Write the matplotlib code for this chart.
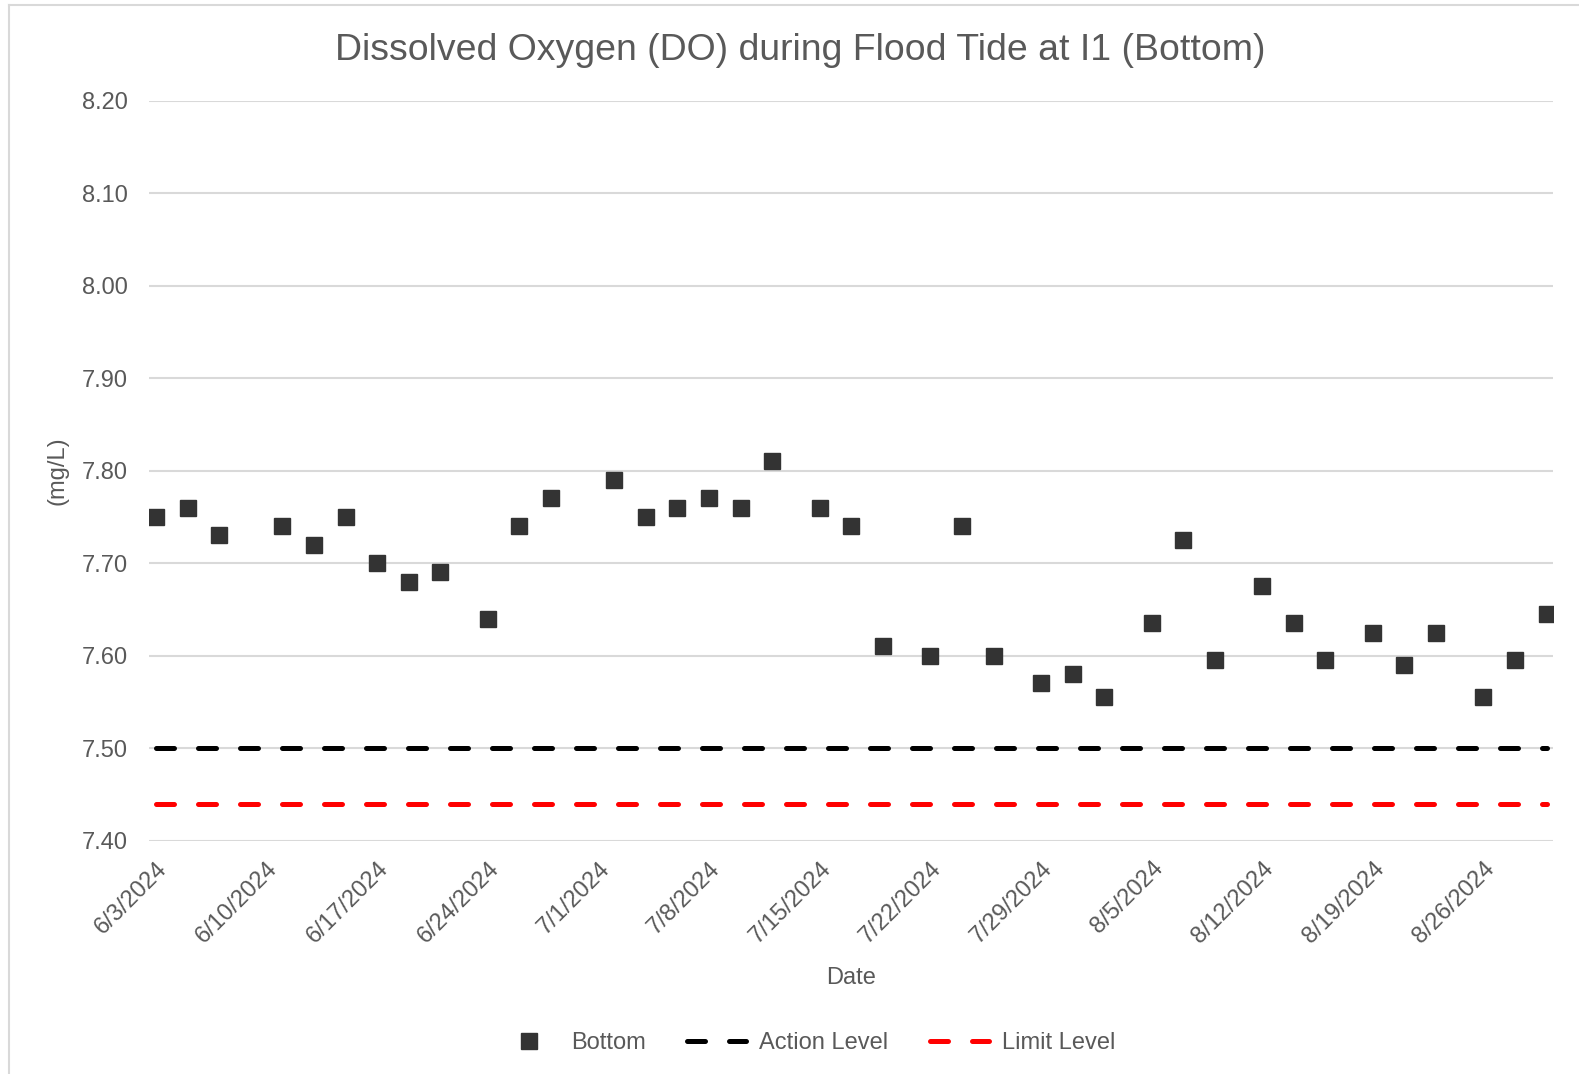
import matplotlib.pyplot as plt
import matplotlib.transforms as mtransforms
import numpy as np
import pandas as pd

plt.rcParams['font.family'] = ['Liberation Sans', 'DejaVu Sans']

# data
dates = pd.to_datetime([
    "2024-06-03", "2024-06-05", "2024-06-07", "2024-06-11", "2024-06-13",
    "2024-06-15", "2024-06-17", "2024-06-19", "2024-06-21", "2024-06-24",
    "2024-06-26", "2024-06-28", "2024-07-02", "2024-07-04", "2024-07-06",
    "2024-07-08", "2024-07-10", "2024-07-12", "2024-07-15", "2024-07-17",
    "2024-07-19", "2024-07-22", "2024-07-24", "2024-07-26", "2024-07-29",
    "2024-07-31", "2024-08-02", "2024-08-05", "2024-08-07", "2024-08-09",
    "2024-08-12", "2024-08-14", "2024-08-16", "2024-08-19", "2024-08-21",
    "2024-08-23", "2024-08-26", "2024-08-28", "2024-08-30"])
bottom = [7.75, 7.76, 7.73, 7.74, 7.72, 7.75, 7.70, 7.68, 7.69, 7.64,
          7.74, 7.77, 7.79, 7.75, 7.76, 7.77, 7.76, 7.81, 7.76, 7.74,
          7.61, 7.60, 7.74, 7.60, 7.57, 7.58, 7.555, 7.635, 7.725, 7.595,
          7.675, 7.635, 7.595, 7.625, 7.59, 7.625, 7.555, 7.595, 7.645]
action_level = 7.50
limit_level = 7.44
tick_dates = pd.date_range("2024-06-03", "2024-08-26", freq="7D")
y_ticks = [7.40, 7.50, 7.60, 7.70, 7.80, 7.90, 8.00, 8.10, 8.20]

txt = "#595959"
W, H = 1579, 1074

fig = plt.figure(figsize=(15.79, 10.74), dpi=100)
ax = fig.add_axes([149/W, 1 - 840.7/H, (1553-149)/W, (840.7-100.7)/H])

# light frame like the excel chart area
fig.add_artist(plt.Line2D([9/W, 9/W], [0, 1 - 5/H], color="#d9d9d9", lw=1.5))
fig.add_artist(plt.Line2D([9/W, 1], [1 - 5/H, 1 - 5/H], color="#d9d9d9", lw=1.5))

ax.plot(dates, bottom, linestyle="none", marker="s", markersize=11.5,
        color="#333333", label="Bottom", zorder=3)

line_x = [dates[0], dates[-1]]
l1, = ax.plot(line_x, [action_level]*2, color="black", lw=3.6,
              label="Action Level", dash_capstyle="round", zorder=2)
l2, = ax.plot(line_x, [limit_level]*2, color="#ff0000", lw=3.6,
              label="Limit Level", dash_capstyle="round", zorder=2)
l1.set_dashes((3.6, 4.8))
l2.set_dashes((3.6, 4.8))

ax.set_ylim(7.40, 8.20)
ax.set_yticks(y_ticks)
ax.set_yticklabels([f"{v:.2f}" for v in y_ticks])
ax.set_xlim(dates[0] - pd.Timedelta(hours=10.5), dates[0] + pd.Timedelta(days=88.4))
ax.set_xticks(tick_dates)
ax.set_xticklabels([f"{d.month}/{d.day}/{d.year}" for d in tick_dates],
                   rotation=45, ha="right", rotation_mode="anchor")
shift = mtransforms.ScaledTranslation(-5/100, 0, fig.dpi_scale_trans)
for lab in ax.get_xticklabels():
    lab.set_transform(lab.get_transform() + shift)

ax.grid(axis="y", color="#d9d9d9", lw=1.5)
ax.set_axisbelow(True)
for s in ax.spines.values():
    s.set_visible(False)
ax.tick_params(axis="both", length=0, labelsize=17, labelcolor=txt)
ax.tick_params(axis="y", pad=15)
ax.tick_params(axis="x", pad=12)

ax.set_xlabel("Date", fontsize=17, color=txt, labelpad=14)
ax.set_ylabel("(mg/L)", fontsize=17, color=txt, labelpad=10)
fig.text(800/W, 1 - 50/H, "Dissolved Oxygen (DO) during Flood Tide at I1 (Bottom)",
         fontsize=26.9, color=txt, ha="center", va="center")

leg = fig.legend(loc="center", bbox_to_anchor=(807/W, 1 - 1043/H), ncol=3,
                 frameon=False, fontsize=17, handlelength=2.5, columnspacing=1.75,
                 handletextpad=0.55)
for t in leg.get_texts():
    t.set_color(txt)

fig.savefig("out.png", dpi=100, facecolor="white")
